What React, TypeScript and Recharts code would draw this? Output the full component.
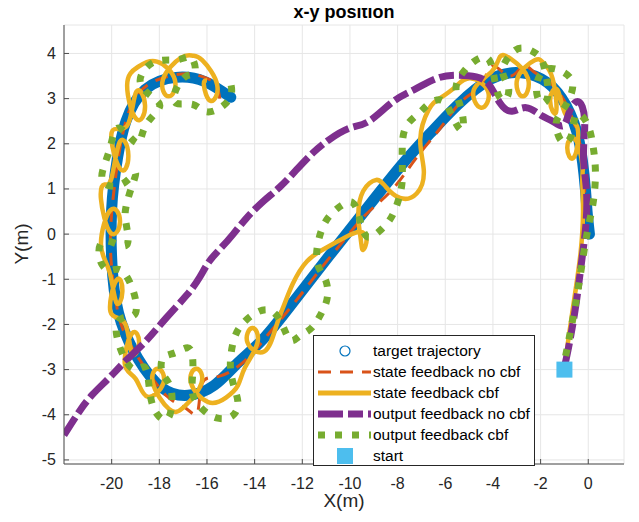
import React from 'react';
import { ComposedChart, Line, XAxis, YAxis, CartesianGrid } from 'recharts';

// axis ticks
const xTicks = [-20, -18, -16, -14, -12, -10, -8, -6, -4, -2, 0];
const yTicks = [-5, -4, -3, -2, -1, 0, 1, 2, 3, 4];

// target trajectory (x, y)
const target: [number, number][] = [
  [0.05, 0], [-0.05, 0.5], [-0.12, 1.0], [-0.38, 2.05], [-0.93, 2.85], [-1.7, 3.35],
  [-2.8, 3.57], [-4.1, 3.43], [-5.5, 2.85], [-6.6, 2.25], [-7.8, 1.55], [-9.4, 0.5],
  [-10.9, -0.5], [-12.3, -1.45], [-13.6, -2.3], [-14.7, -2.85], [-15.7, -3.35],
  [-16.8, -3.57], [-17.9, -3.4], [-18.9, -2.75], [-19.6, -1.95], [-19.95, -0.95],
  [-20.0, 0.55], [-19.75, 1.7], [-19.4, 2.5], [-18.6, 3.2], [-17.3, 3.47], [-16.1, 3.38],
  [-15.0, 3.03],
];

// state feedback, no cbf
const stateNoCbf: [number, number][] = [
  [-1.0, -2.95], [-0.75, -2.0], [-0.45, -1.0], [-0.25, 0.0], [-0.15, 1.0], [-0.35, 2.0],
  [-0.9, 2.85], [-1.6, 3.35], [-2.3, 3.6], [-2.75, 3.72], [-3.3, 3.5], [-4.0, 3.72],
  [-4.5, 3.3], [-5.3, 2.95], [-6.2, 2.35], [-7.2, 1.7], [-8.2, 1.0], [-9.3, 0.45],
  [-10.2, -0.1], [-11.2, -0.75], [-12.3, -1.5], [-13.4, -2.2], [-14.4, -2.8],
  [-15.5, -3.15], [-16.2, -3.3], [-16.4, -3.95], [-16.9, -3.85], [-17.7, -3.58],
  [-18.8, -2.8], [-19.6, -2.0], [-19.95, -1.0], [-20.05, 0.0], [-19.85, 1.2], [-19.5, 2.3],
  [-18.9, 3.1], [-17.9, 3.45], [-16.8, 3.55], [-16.0, 3.45], [-15.6, 3.3], [-15.45, 2.95],
];

// state feedback, cbf
const stateCbf: [number, number][] = [
  [-1.0, -2.95], [-0.8, -2.2], [-0.55, -1.3], [-0.32, -0.4], [-0.22, 0.5], [-0.25, 1.2],
  [-0.25, 1.55], [-0.55, 2.1], [-0.88, 1.92], [-0.6, 1.7], [-0.45, 2.35], [-0.95, 2.65],
  [-1.3, 3.2], [-1.6, 2.95], [-1.35, 2.7], [-1.5, 3.45], [-1.9, 3.8], [-2.25, 3.85],
  [-2.97, 3.45], [-2.75, 3.05], [-2.53, 3.45], [-3.25, 3.88], [-3.7, 3.93], [-4.05, 3.6],
  [-4.8, 3.2], [-4.5, 2.8], [-4.2, 3.15], [-4.95, 3.45], [-5.6, 3.25], [-6.25, 3.0],
  [-6.7, 2.75], [-7.05, 2.1], [-6.9, 1.4], [-7.2, 0.9], [-7.9, 0.8], [-8.5, 1.05],
  [-8.9, 1.2], [-9.45, 0.95], [-9.65, 0.4], [-9.55, -0.1], [-9.45, -0.35], [-9.3, -0.12],
  [-9.6, 0.05], [-10.3, -0.1], [-11.0, -0.3], [-11.8, -0.6], [-12.4, -1.1], [-12.75, -1.55],
  [-13.1, -2.05], [-13.6, -2.6], [-14.3, -2.4], [-14.1, -2.08], [-13.88, -2.4],
  [-14.4, -2.95], [-14.7, -3.35], [-15.2, -3.62], [-15.95, -3.72], [-16.67, -3.3],
  [-16.45, -2.98], [-16.23, -3.3], [-16.95, -3.82], [-17.6, -3.87], [-18.27, -3.3],
  [-18.05, -2.98], [-17.83, -3.3], [-18.5, -3.6], [-19.0, -3.2], [-19.45, -2.87],
  [-19.15, -2.2], [-18.85, -2.42], [-19.15, -2.64], [-19.45, -1.97], [-20.05, -1.72],
  [-19.8, -1.02], [-19.55, -1.27], [-19.8, -1.52], [-20.1, -0.82], [-20.45, -0.22],
  [-20.05, 0.53], [-19.65, 0.28], [-20.05, 0.03], [-20.45, 0.78], [-20.3, 1.1],
  [-20.0, 1.25], [-19.65, 2.05], [-19.3, 1.75], [-19.65, 1.45], [-20.0, 2.25],
  [-19.35, 2.4], [-18.97, 3.15], [-18.6, 2.85], [-18.97, 2.55], [-19.35, 3.3],
  [-18.9, 3.7], [-18.1, 3.82], [-17.35, 3.42], [-17.6, 3.05], [-17.85, 3.42], [-17.1, 3.9],
  [-16.6, 3.95], [-16.2, 3.85], [-15.57, 3.3], [-15.85, 2.95], [-16.13, 3.3], [-16.0, 3.4],
];

// output feedback, no cbf
const outputNoCbf: [number, number][] = [
  [-1.0, -2.95], [-0.75, -2.3], [-0.5, -1.5], [-0.3, -0.7], [-0.1, 0.2], [-0.08, 1.0],
  [-0.2, 1.7], [-0.15, 2.4], [-0.25, 2.82], [-0.5, 2.93], [-0.8, 2.7], [-1.05, 2.4],
  [-1.5, 2.5], [-1.95, 2.62], [-2.6, 2.8], [-3.2, 2.72], [-3.7, 2.9], [-4.15, 3.3],
  [-4.7, 3.48], [-5.5, 3.52], [-6.35, 3.45], [-7.3, 3.2], [-8.2, 2.93], [-9.2, 2.5],
  [-10.0, 2.35], [-10.85, 2.1], [-11.55, 1.8], [-12.25, 1.42], [-12.95, 1.04],
  [-13.65, 0.72], [-14.35, 0.35], [-14.9, 0.0], [-15.4, -0.3], [-15.9, -0.6],
  [-16.3, -0.95], [-16.85, -1.35], [-17.7, -1.85], [-18.55, -2.36], [-19.4, -2.8],
  [-20.1, -3.18], [-20.8, -3.55], [-21.35, -3.92], [-22.0, -4.45],
];

// output feedback, cbf
const outputCbf: [number, number][] = [
  [-0.95, -2.7], [-0.8, -2.3], [-0.62, -1.8], [-0.42, -1.2], [-0.2, -0.45], [0.0, 0.15],
  [0.22, 0.75], [0.3, 1.4], [0.2, 1.95], [-0.05, 2.45], [-0.5, 2.65], [-0.7, 2.2],
  [-1.1, 2.05], [-1.35, 2.45], [-1.0, 2.8], [-0.65, 3.3], [-1.1, 3.6], [-1.75, 3.65],
  [-2.15, 3.35], [-2.05, 2.95], [-1.7, 3.05], [-1.85, 3.7], [-2.2, 4.0], [-2.8, 4.12],
  [-3.3, 3.95], [-3.6, 3.6], [-3.35, 3.25], [-3.5, 2.98], [-3.85, 3.2], [-4.15, 3.85],
  [-4.8, 3.82], [-5.3, 3.55], [-5.55, 3.2], [-5.3, 2.7], [-5.3, 2.3], [-5.7, 2.6],
  [-6.1, 2.95], [-6.65, 2.9], [-7.1, 2.68], [-7.6, 2.42], [-7.8, 2.0], [-7.8, 1.4],
  [-7.85, 1.0], [-8.05, 0.62], [-8.35, 0.3], [-8.8, 0.05], [-9.3, -0.05], [-9.6, 0.35],
  [-9.9, 0.7], [-10.45, 0.6], [-11.0, 0.3], [-11.3, -0.1], [-11.4, -0.45], [-11.3, -0.75],
  [-11.0, -1.05], [-10.95, -1.4], [-11.15, -1.7], [-11.6, -2.07], [-12.1, -2.25],
  [-12.5, -2.35], [-12.85, -2.0], [-13.3, -1.7], [-13.9, -1.73], [-14.5, -1.98],
  [-14.85, -2.3], [-15.0, -2.7], [-15.0, -3.05], [-14.85, -3.4], [-14.7, -3.75],
  [-14.95, -4.03], [-15.6, -4.07], [-16.2, -3.87], [-16.6, -3.55], [-16.6, -3.1],
  [-16.7, -2.55], [-17.3, -2.62], [-17.85, -2.75], [-17.85, -3.1], [-17.5, -3.45],
  [-17.6, -4.05], [-18.1, -3.98], [-18.4, -3.5], [-18.6, -2.95], [-19.2, -2.95],
  [-19.8, -2.2], [-19.5, -1.85], [-19.0, -1.75], [-19.1, -1.25], [-19.6, -0.8],
  [-20.1, -0.8], [-20.5, -0.55], [-20.3, -0.15], [-19.4, -0.25], [-19.4, 0.25],
  [-19.4, 0.6], [-19.2, 0.98], [-19.0, 1.35], [-19.6, 1.1], [-20.4, 1.2], [-20.1, 1.85],
  [-19.7, 2.35], [-18.95, 2.02], [-18.6, 2.38], [-18.0, 2.8], [-18.3, 3.04], [-18.8, 3.36],
  [-18.5, 3.71], [-17.9, 3.85], [-17.15, 3.87], [-16.65, 3.9], [-16.5, 3.6], [-16.86, 3.5],
  [-17.3, 3.2], [-17.3, 2.9], [-16.6, 2.87], [-16.03, 2.71], [-15.35, 2.83], [-14.97, 3.13],
  [-15.1, 3.5],
];

const startPoint: [number, number][] = [[-1, -3]];

const rows = (pts: [number, number][]) => pts.map(([x, y]) => ({ x, y }));

const TEXT = '#262626';
const AXIS = '#4d4d4d';
const FONT = '"Liberation Sans", Arial, Helvetica, sans-serif';

const XTick = (props: any) => {
  const { x, payload } = props;
  return (
    <g>
      <line x1={x} x2={x} y1={464} y2={459} stroke={AXIS} />
      <text x={x} y={483} textAnchor="middle" dominantBaseline="central" fontSize={16} fill={TEXT} fontFamily={FONT}>
        {payload.value}
      </text>
    </g>
  );
};

const YTick = (props: any) => {
  const { y, payload } = props;
  return (
    <g>
      <line x1={64} x2={69} y1={y} y2={y} stroke={AXIS} />
      <text x={56} y={y} textAnchor="end" dominantBaseline="central" fontSize={16} fill={TEXT} fontFamily={FONT}>
        {payload.value}
      </text>
    </g>
  );
};

const StartDot = (props: any) => {
  const { cx, cy } = props;
  if (cx == null || cy == null) return <g />;
  return <rect x={cx - 8} y={cy - 8} width={16} height={16} fill="#4DBEEE" />;
};

const legendItems = [
  { label: 'target trajectory', kind: 'circle' },
  { label: 'state feedback no cbf', kind: 'line', color: '#D95319', width: 3, dash: '13 9' },
  { label: 'state feedback cbf', kind: 'line', color: '#EDB120', width: 5, dash: '' },
  { label: 'output feedback no cbf', kind: 'line', color: '#7E2F8E', width: 7, dash: '25 5 15 5' },
  { label: 'output feedback cbf', kind: 'line', color: '#77AC30', width: 7, dash: '7 10' },
  { label: 'start', kind: 'square' },
];

function ChartLegend() {
  return (
    <div
      style={{
        position: 'absolute',
        left: 313,
        top: 335,
        width: 222,
        height: 131,
        boxSizing: 'border-box',
        border: '1px solid #262626',
        background: '#fff',
      }}
    >
      {legendItems.map((it, i) => {
        const cy = 15 + i * 21;
        return (
          <div key={it.label} style={{ position: 'absolute', left: 0, top: cy - 11, height: 22, width: 220 }}>
            <svg width={58} height={22} style={{ position: 'absolute', left: 0, top: 0 }}>
              {it.kind === 'circle' && <circle cx={31} cy={11} r={5} fill="none" stroke="#0072BD" strokeWidth={1.2} />}
              {it.kind === 'square' && <rect x={23} y={3} width={16} height={16} fill="#4DBEEE" />}
              {it.kind === 'line' && (
                <line x1={4} x2={57} y1={11} y2={11} stroke={it.color} strokeWidth={it.width} strokeDasharray={it.dash} />
              )}
            </svg>
            <span
              style={{
                position: 'absolute',
                left: 59,
                top: 0,
                lineHeight: '22px',
                fontSize: 15.5,
                color: '#000',
                fontFamily: FONT,
                whiteSpace: 'nowrap',
              }}
            >
              {it.label}
            </span>
          </div>
        );
      })}
    </div>
  );
}

export default function App() {
  return (
    <div style={{ position: 'relative', width: 639, height: 522, margin: '-8px 0 0 -8px', background: '#fff', fontFamily: FONT }}>
      <ComposedChart width={639} height={522} margin={{ top: 25, right: 15, bottom: 18, left: 0 }}>
        <CartesianGrid stroke="#e6e6e6" strokeWidth={1} />
        <XAxis
          type="number"
          dataKey="x"
          domain={[-22, 1.5]}
          ticks={xTicks}
          allowDataOverflow
          height={40}
          axisLine={{ stroke: AXIS }}
          tickLine={false}
          tick={<XTick />}
          interval={0}
        />
        <YAxis
          type="number"
          dataKey="y"
          domain={[-5.09, 4.63]}
          ticks={yTicks}
          allowDataOverflow
          width={64}
          axisLine={{ stroke: AXIS }}
          tickLine={false}
          tick={<YTick />}
          interval={0}
        />
        <Line data={rows(target)} dataKey="y" type="natural" stroke="#0072BD" strokeWidth={11} strokeLinecap="round" dot={false} isAnimationActive={false} />
        <Line data={rows(stateNoCbf)} dataKey="y" type="natural" stroke="#D95319" strokeWidth={3} strokeDasharray="13 9" dot={false} isAnimationActive={false} />
        <Line data={rows(stateCbf)} dataKey="y" type="natural" stroke="#EDB120" strokeWidth={4.5} dot={false} isAnimationActive={false} />
        <Line data={rows(outputNoCbf)} dataKey="y" type="natural" stroke="#7E2F8E" strokeWidth={7} strokeDasharray="25 5 15 5" dot={false} isAnimationActive={false} />
        <Line data={rows(outputCbf)} dataKey="y" type="natural" stroke="#77AC30" strokeWidth={7} strokeDasharray="7 10" dot={false} isAnimationActive={false} />
        <Line data={rows(startPoint)} dataKey="y" stroke="none" dot={<StartDot />} isAnimationActive={false} />
      </ComposedChart>
      <div style={{ position: 'absolute', left: 64, width: 560, top: 2, textAlign: 'center', fontWeight: 'bold', fontSize: 18, color: '#000', lineHeight: '20px' }}>
        x-y position
      </div>
      <div style={{ position: 'absolute', left: 64, width: 560, top: 490, textAlign: 'center', fontSize: 19, color: TEXT, lineHeight: '22px' }}>
        X(m)
      </div>
      <div
        style={{
          position: 'absolute',
          left: 22,
          top: 244,
          transform: 'translate(-50%, -50%) rotate(-90deg)',
          fontSize: 19,
          color: TEXT,
          lineHeight: '22px',
          whiteSpace: 'nowrap',
        }}
      >
        Y(m)
      </div>
      <ChartLegend />
    </div>
  );
}
